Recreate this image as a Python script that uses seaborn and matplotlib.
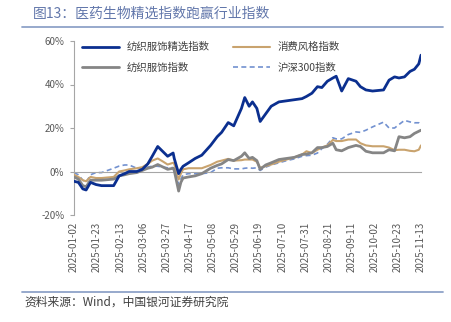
import matplotlib
matplotlib.use("Agg")
import matplotlib.pyplot as plt
import seaborn as sns
import pandas as pd
import numpy as np

sns.set_theme(style="white")
plt.rcParams['font.family'] = ['Noto Sans CJK SC', 'DejaVu Sans']
plt.rcParams['axes.unicode_minus'] = False

dates = ["2025-01-02", "2025-01-06", "2025-01-10", "2025-01-13", "2025-01-17", "2025-01-22",
         "2025-01-27", "2025-02-07", "2025-02-12", "2025-02-17", "2025-02-21", "2025-02-28",
         "2025-03-05", "2025-03-10", "2025-03-14", "2025-03-19", "2025-03-24", "2025-03-28",
         "2025-04-02", "2025-04-03", "2025-04-07", "2025-04-09", "2025-04-11", "2025-04-16",
         "2025-04-22", "2025-04-28", "2025-05-06", "2025-05-12", "2025-05-16", "2025-05-22",
         "2025-05-27", "2025-06-03", "2025-06-06", "2025-06-10", "2025-06-13", "2025-06-17",
         "2025-06-20", "2025-06-25", "2025-06-30", "2025-07-07", "2025-07-14", "2025-07-21",
         "2025-07-28", "2025-08-01", "2025-08-06", "2025-08-11", "2025-08-15", "2025-08-20",
         "2025-08-25", "2025-08-28", "2025-09-02", "2025-09-08", "2025-09-15", "2025-09-19",
         "2025-09-24", "2025-09-30", "2025-10-10", "2025-10-15", "2025-10-20", "2025-10-24",
         "2025-10-29", "2025-11-03", "2025-11-07", "2025-11-11", "2025-11-13"]

textile_select = [-4.5, -5, -8, -8.5, -5, -6, -6.5, -6.5, -2, -1, 0, 0, 1, 3.5, 7, 11.5, 9, 7,
                  8.5, 6, -1, 1, 2.4, 4, 6, 7.5, 12, 16, 18, 22.5, 21, 29, 34, 30, 32, 29,
                  23, 26.5, 30, 32, 32.5, 33, 33.5, 34.5, 36, 39, 38.6, 41.5, 43, 43.8, 37,
                  42.7, 41.5, 39, 37.5, 37, 37.5, 42, 43.5, 43, 43.5, 46, 47, 49.5, 53.5]
consumer_style = [-1.5, -2.5, -4, -4.5, -2.5, -3, -3, -2.5, 0, 0.5, 1, 1.5, 2, 3.5, 5, 6, 4.5, 3.2,
                  4, 3.5, -3.7, -1, 1, 1.5, 1.5, 1.5, 3, 4.5, 5, 5.8, 5, 5.2, 5.5, 5.5, 5.5, 4.5,
                  1.7, 2.5, 3.2, 4.5, 5.5, 6.5, 7.8, 9.3, 8.5, 10, 11, 12, 14.5, 14, 14,
                  14.7, 14.7, 13, 12, 11.6, 11.6, 11, 9.8, 10, 10, 9.5, 9.3, 10, 12]
textile_index = [-2.5, -3.5, -6.5, -7, -4, -4, -4, -3.5, -2, -1.5, -1, -0.5, 0.5, 1.5, 2, 3.2, 2, 1,
                 1.5, 0.5, -9, -5, -3, -2.5, -2, -1, 1.5, 2.8, 3.5, 5.5, 5, 7, 8.6, 6, 6.5, 5,
                 1, 3, 4, 5.5, 6, 6.5, 7.8, 8, 8.6, 11, 11, 11.5, 13, 10, 9.5,
                 11, 12, 11.5, 9.3, 8.6, 8.6, 10, 9.5, 16, 15.5, 16, 17.5, 18.5, 19]
csi300 = [-0.5, -1.5, -4, -5, -1.5, -0.5, -0.5, 1.5, 2.5, 3, 3, 1.5, 1.5, 2, 2.5, 2.4, 2, 1.7,
          1.8, 1.5, -6, -3.5, -1.5, -1, -1, -1, -0.5, 1.5, 1.7, 1.7, 1.2, 1.2, 1.5, 1.7, 1.5, 1.7,
          0.5, 2, 3, 4, 5, 5.8, 7, 7.3, 7.5, 8.5, 10.5, 12.5, 15.5, 15, 15,
          17, 18.2, 18, 19, 20.5, 22.7, 20, 20, 21.6, 23.5, 22.8, 22.4, 22.4, 21]

names = ["纺织服饰精选指数", "纺织服饰指数", "消费风格指数", "沪深300指数"]
colors = ["#0b2f8f", "#858585", "#c9a36e", "#7291d0"]
widths = [2.0, 2.0, 1.5, 1.2]
styles = ["-", "-", "-", (0, (3, 2))]
zorders = [5, 4, 3, 2]
series = [textile_select, textile_index, consumer_style, csi300]

d = pd.to_datetime(dates)

fig = plt.figure(figsize=(4.52, 3.22), dpi=100)
ax = fig.add_axes([74/452, 1-215/322, (421-74)/452, (215-41)/322])

for name, vals, c, lw, ls, z in zip(names, series, colors, widths, styles, zorders):
    df = pd.DataFrame({"date": d, "value": np.array(vals) / 100.0})
    sns.lineplot(data=df, x="date", y="value", ax=ax, color=c, linewidth=lw,
                 linestyle=ls, label=name, zorder=z)

ax.set_xlim(pd.Timestamp("2025-01-02"), pd.Timestamp("2025-11-13"))
ax.set_ylim(-0.2, 0.6)
ax.set_yticks([-0.2, 0, 0.2, 0.4, 0.6])
ax.set_yticklabels(["-20%", "0%", "20%", "40%", "60%"])
ax.set_xlabel("")
ax.set_ylabel("")

ticks = pd.date_range("2025-01-02", "2025-11-13", freq="21D")
ax.set_xticks(ticks)
ax.tick_params(axis="x", which="both", direction="out", length=3, color="#a6a6a6",
               labelbottom=False, width=0.8)
ax.spines["bottom"].set_position(("data", 0))
ax.spines["bottom"].set_color("#a6a6a6")
ax.spines["bottom"].set_linewidth(0.8)
ax.spines["left"].set_color("#a6a6a6")
ax.spines["left"].set_linewidth(0.8)
ax.spines["top"].set_visible(False)
ax.spines["right"].set_visible(False)
ax.tick_params(axis="y", direction="out", length=3, color="#a6a6a6", width=0.8,
               labelsize=7, labelcolor="#595959", pad=4, left=True)

sec = ax.secondary_xaxis("bottom")
sec.set_xticks(ticks)
sec.set_xticklabels([t.strftime("%Y-%m-%d") for t in ticks], rotation=90)
sec.tick_params(length=0, labelsize=7, labelcolor="#595959", pad=5)
sec.spines["bottom"].set_visible(False)

leg = ax.legend(loc="upper left", bbox_to_anchor=(0.005, 1.03), ncol=2, frameon=False,
                fontsize=7.5, handlelength=3.6, columnspacing=2.2, labelspacing=1.0,
                handletextpad=0.7, borderaxespad=0.2)
for t in leg.get_texts():
    t.set_color("#404040")

fig.text(33/452, 1-14/322, "图13：医药生物精选指数跑赢行业指数", fontsize=10,
         color="#6277ab", va="center", ha="left")
fig.add_artist(plt.Line2D([22/452, 443/452], [1-27/322, 1-27/322], color="#8fa3c8", lw=1.3))
fig.add_artist(plt.Line2D([22/452, 443/452], [1-292/322, 1-292/322], color="#8fa3c8", lw=1.3))
fig.text(24/452, 1-302/322, "资料来源：Wind，中国银河证券研究院", fontsize=8.5,
         color="#404040", va="center", ha="left", style="italic")

fig.savefig("out.png", dpi=100)
